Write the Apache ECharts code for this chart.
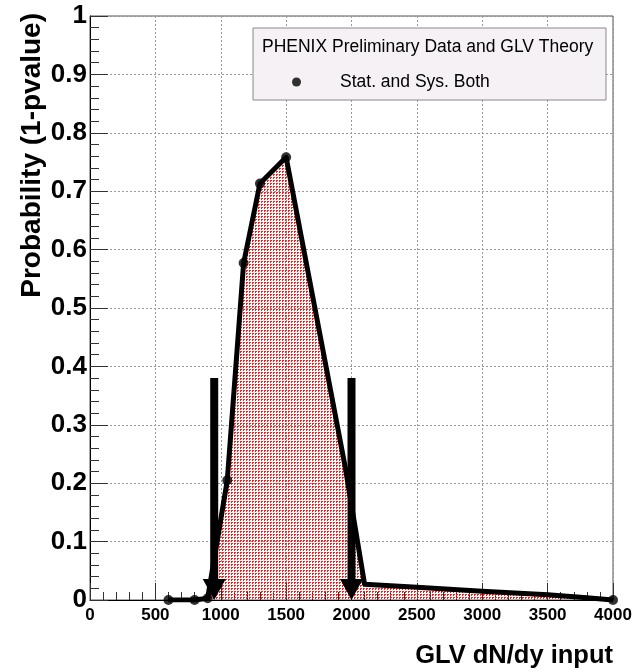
<!DOCTYPE html>
<html>
<head>
<meta charset="utf-8">
<script src="https://cdn.jsdelivr.net/npm/echarts@6/dist/echarts.min.js"></script>
<style>
  html, body { margin: 0; padding: 0; background: #fff; }
  #chart { width: 635px; height: 672px; }
</style>
</head>
<body>
<div id="chart"></div>
<script>
// ---- data ----
const curveX = [600, 800, 900, 1050, 1175, 1300, 1500, 1950, 2100, 2500, 3000, 3500, 3800, 4000];
const curveY = [0, 0, 0.003, 0.205, 0.577, 0.713, 0.758, 0.23, 0.027, 0.022, 0.015, 0.009, 0.004, 0];
const markerX = [600, 800, 900, 1050, 1175, 1300, 1500, 4000];
const markerY = [0, 0, 0.003, 0.205, 0.577, 0.713, 0.758, 0];
const arrowX = [950, 2000];
const arrowTop = [0.38, 0.38];
const legendHeader = 'PHENIX Preliminary Data and GLV Theory';
const seriesName = 'Stat. and Sys. Both';
const xTitle = 'GLV dN/dy input';
const yTitle = 'Probability (1-pvalue)';

const FONT = "'Liberation Sans', Arial, Helvetica, sans-serif";

// dotted red fill pattern
const pc = document.createElement('canvas');
pc.width = 3; pc.height = 3;
const pctx = pc.getContext('2d');
pctx.fillStyle = '#ff1a1a';
pctx.fillRect(0, 0, 2, 1);
pctx.fillRect(0, 1, 1, 1);

const chart = echarts.init(document.getElementById('chart'), null, { renderer: 'canvas' });

const option = {
  animation: false,
  backgroundColor: '#fff',
  grid: {
    left: 90, right: 22, top: 16, bottom: 72,
    show: true, borderColor: '#555', borderWidth: 1, backgroundColor: 'transparent'
  },
  legend: {
    data: [seriesName],
    left: 292, top: 73, padding: 0,
    itemWidth: 9, itemHeight: 9,
    icon: 'circle',
    z: 10,
    textStyle: { fontFamily: FONT, fontSize: 17.5, color: '#000', padding: [0, 0, 0, 34] },
    selectedMode: false
  },
  xAxis: {
    type: 'value', min: 0, max: 4000, interval: 500,
    axisLine: { show: true, onZero: false, lineStyle: { color: '#000', width: 1 } },
    axisTick: { show: true, inside: true, length: 17, lineStyle: { color: '#333' } },
    minorTick: { show: true, splitNumber: 5, length: 8, lineStyle: { color: '#333' } },
    splitLine: { show: true, lineStyle: { color: '#999', type: [2, 2], width: 1 } },
    axisLabel: {
      fontFamily: FONT, fontWeight: 'bold', fontSize: 17, color: '#000', margin: 7,
      formatter: function (v) { return String(v); }
    }
  },
  yAxis: {
    type: 'value', min: 0, max: 1, interval: 0.1,
    axisLine: { show: true, onZero: false, lineStyle: { color: '#000', width: 1 } },
    axisTick: { show: true, inside: true, length: 18, lineStyle: { color: '#333' } },
    minorTick: { show: true, splitNumber: 5, length: 9, lineStyle: { color: '#333' } },
    splitLine: { show: true, lineStyle: { color: '#999', type: [2, 2], width: 1 } },
    axisLabel: {
      fontFamily: FONT, fontWeight: 'bold', fontSize: 26, color: '#000', margin: 3,
      padding: [6, 0, 0, 0],
      formatter: function (v) { return String(Math.round(v * 10) / 10); }
    }
  },
  graphic: [
    {
      type: 'rect', z: 5,
      shape: { x: 253, y: 28, width: 353, height: 72 },
      style: { fill: '#f5f1f5', stroke: '#888', lineWidth: 1 }
    },
    {
      type: 'text', z: 10, x: 262, y: 47,
      style: { text: legendHeader, font: '17.5px ' + FONT, fill: '#000', align: 'left', verticalAlign: 'middle' }
    },
    {
      type: 'text', z: 10, x: 613, y: 656,
      style: { text: xTitle, font: 'bold 25.5px ' + FONT, fill: '#000', align: 'right', verticalAlign: 'middle' }
    },
    {
      type: 'text', z: 10, x: 32, y: 13, rotation: Math.PI / 2,
      style: { text: yTitle, font: 'bold 28px ' + FONT, fill: '#000', align: 'right', verticalAlign: 'middle' }
    }
  ],
  series: [
    {
      type: 'line', name: 'curve',
      data: curveX.map((x, i) => [x, curveY[i]]),
      showSymbol: false, symbol: 'none',
      lineStyle: { color: '#000', width: 5, join: 'round' },
      areaStyle: { color: { image: pc, repeat: 'repeat' }, opacity: 1 },
      z: 2, silent: true
    },
    {
      type: 'scatter', name: seriesName,
      data: markerX.map((x, i) => [x, markerY[i]]),
      symbol: 'circle', symbolSize: 10,
      itemStyle: { color: '#000' },
      z: 3, silent: true
    },
    {
      type: 'custom', name: 'arrows',
      data: arrowX.map((x, i) => [x, arrowTop[i]]),
      z: 4, silent: true,
      renderItem: function (params, api) {
        const top = api.coord([api.value(0), api.value(1)]);
        const bot = api.coord([api.value(0), 0]);
        const hw = 4, headW = 11.5, headH = 21;
        return {
          type: 'group',
          children: [
            { type: 'rect', shape: { x: top[0] - hw, y: top[1], width: 2 * hw, height: (bot[1] - headH) - top[1] + 1 }, style: { fill: '#000' } },
            { type: 'polygon', shape: { points: [[bot[0] - headW, bot[1] - headH], [bot[0] + headW, bot[1] - headH], [bot[0], bot[1]]] }, style: { fill: '#000' } }
          ]
        };
      }
    }
  ]
};
chart.setOption(option);
</script>
</body>
</html>
